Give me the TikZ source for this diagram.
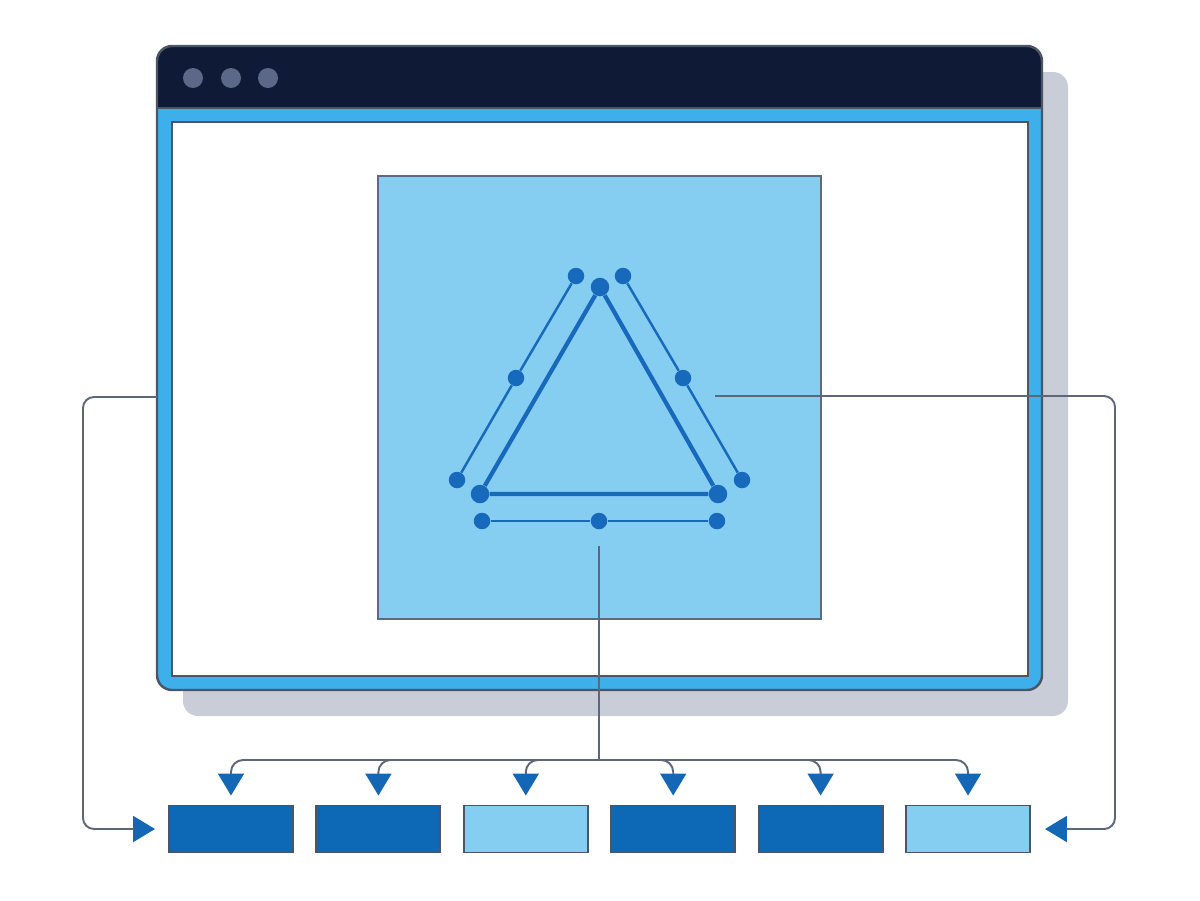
\documentclass[tikz,border=0pt]{standalone}
\usetikzlibrary{arrows.meta,positioning}
\definecolor{navy}{HTML}{0F1B36}
\definecolor{dotgray}{HTML}{5B6888}
\definecolor{frameblue}{HTML}{3DAFEA}
\definecolor{rimgray}{HTML}{4B5565}
\definecolor{skyblue}{HTML}{86CDF2}
\definecolor{sqgray}{HTML}{5A6B82}
\definecolor{triblue}{HTML}{1769BC}
\definecolor{deepblue}{HTML}{0D68B6}
\definecolor{linkgray}{HTML}{5E6778}
\definecolor{arrowblue}{HTML}{1467B4}
\definecolor{shadowgray}{HTML}{C8CDD7}

\begin{document}
\begin{tikzpicture}[x=0.02cm,y=-0.02cm,
  dot/.style={circle,fill=triblue,inner sep=0pt,minimum size=0.33cm},
  bigdot/.style={dot,minimum size=0.37cm},
  triline/.style={triblue,line width=2.4pt},
  thinline/.style={triblue,line width=1.4pt},
  link/.style={linkgray,line width=1.1pt},
  tipin/.style={-{Triangle[length=0.44cm,width=0.52cm,color=arrowblue]}},
  slot/.style={draw=rimgray,line width=1.1pt,fill=deepblue,inner sep=0pt,minimum width=2.48cm,minimum height=0.94cm},
  slotlight/.style={slot,fill=skyblue}]
\useasboundingbox (0,0) rectangle (1200,900);
\fill[shadowgray,rounded corners=0.3cm] (183,72) rectangle (1068,716);
\fill[frameblue,rounded corners=0.3cm] (157,46) rectangle (1042,690);
\begin{scope}
\clip[rounded corners=0.3cm] (157,46) rectangle (1042,690);
\fill[navy] (157,46) rectangle (1042,108);
\end{scope}
\draw[rimgray,line width=0.8pt] (157,108) -- (1042,108);
\draw[rimgray,line width=0.9pt,fill=white] (172,122) rectangle (1028,676);
\draw[rimgray,line width=1.4pt,rounded corners=0.3cm] (157,46) rectangle (1042,690);
\foreach \x in {193,231,268}
  \fill[dotgray] (\x,78) circle (10);
\draw[sqgray,line width=1.1pt,fill=skyblue] (378,176) rectangle (821,619);
\node[bigdot] (t1) at (600,287) {};
\node[bigdot] (t2) at (480,494) {};
\node[bigdot] (t3) at (718,494) {};
\draw[triline] (t1) -- (t2) -- (t3) -- (t1);
\node[dot] (l1) at (576,276) {};
\node[dot] (l2) at (516,378) {};
\node[dot] (l3) at (457,480) {};
\node[dot] (r1) at (623,276) {};
\node[dot] (r2) at (683,378) {};
\node[dot] (r3) at (742,480) {};
\node[dot] (m1) at (482,521) {};
\node[dot] (m2) at (599,521) {};
\node[dot] (m3) at (717,521) {};
\draw[thinline] (l1) -- (l2) -- (l3);
\draw[thinline] (r1) -- (r2) -- (r3);
\draw[thinline] (m1) -- (m2) -- (m3);
\node[slot] (b1) at (231,829) {};
\node[slot,right=0.43cm of b1] (b2) {};
\node[slotlight,right=0.43cm of b2] (b3) {};
\node[slot,right=0.43cm of b3] (b4) {};
\node[slot,right=0.43cm of b4] (b5) {};
\node[slotlight,right=0.43cm of b5] (b6) {};
\coordinate (tapB) at (599,546);
\coordinate (hub) at (599,760);
\coordinate (tapL) at (157,397);
\coordinate (tapR) at (715,396);
\draw[link] (tapB) -- (hub);
\foreach \b in {b1,b2,b3,b4,b5,b6}
  \draw[link,tipin,rounded corners=0.24cm,shorten >=0.18cm] (hub) -| (\b.north);
\draw[link,tipin,rounded corners=0.22cm,shorten >=0.26cm] (tapL) -- (83,397) |- (b1.west);
\draw[link,tipin,rounded corners=0.22cm,shorten >=0.28cm] (tapR) -- (1115,396) |- (b6.east);
\end{tikzpicture}
\end{document}
